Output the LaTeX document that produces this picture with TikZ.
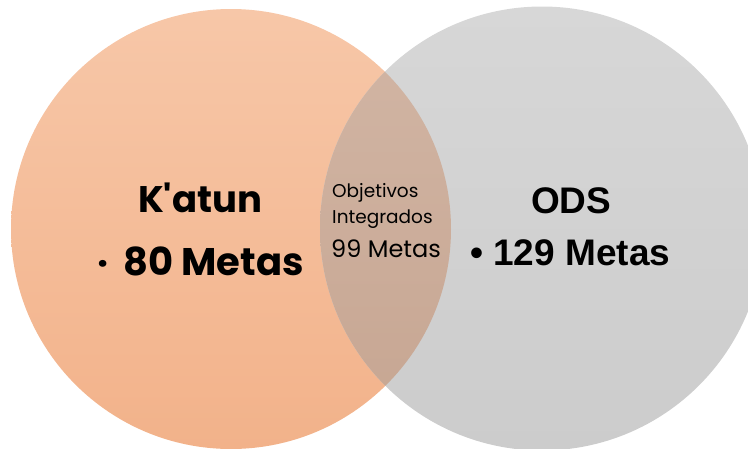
\documentclass[tikz,border=0pt]{standalone}
\usepackage{fontspec}
\newfontfamily\popfont{Poppins}
\newfontfamily\arialfont{Liberation Sans}
\definecolor{orTop}{RGB}{247,199,168}
\definecolor{orBot}{RGB}{242,178,138}
\definecolor{grTop}{RGB}{215,215,215}
\definecolor{grBot}{RGB}{204,204,204}
\definecolor{ovTop}{RGB}{210,182,165}
\definecolor{ovBot}{RGB}{198,165,145}
\begin{document}
\begin{tikzpicture}[x=1pt,y=-1pt,
  lbl/.style={inner sep=0pt, anchor=base west, text=black},
  bigpop/.style={lbl, font=\popfont\bfseries\fontsize{37}{40}\selectfont},
  bigpopb/.style={lbl, font=\popfont\bfseries\fontsize{38.5}{40}\selectfont},
  bigarial/.style={lbl, font=\arialfont\bfseries\fontsize{37}{40}\selectfont},
  midtxt/.style={lbl, font=\popfont\fontsize{18.5}{20}\selectfont},
  midbig/.style={lbl, font=\popfont\fontsize{24}{26}\selectfont}]
\useasboundingbox (0,0) rectangle (748,448);
\clip (0,0) rectangle (748,448);
\coordinate (lc) at (231,229);
\coordinate (rc) at (542,228.5);
\shade[top color=orTop, bottom color=orBot] (lc) circle[radius=220];
\shade[top color=grTop, bottom color=grBot] (rc) circle[radius=222];
\begin{scope}
  \clip (lc) circle[radius=220];
  \clip (rc) circle[radius=222];
  \shade[top color=ovTop, bottom color=ovBot] (300,9) rectangle (460,449);
\end{scope}
\node[bigpop] (katun) at (138,212) {K'atun};
\node[bigpop] (kdot) at (97,275) {·};
\node[bigpopb] (k80) at (123,275) {80 Metas};
\node[bigarial] (ods) at (531,213) {ODS};
\node[bigarial] (o129) at (470,265) {• 129 Metas};
\node[midtxt] (obj) at (332,197) {Objetivos};
\node[midtxt] (integ) at (332,223) {Integrados};
\node[midbig] (m99) at (331,257) {99 Metas};
\end{tikzpicture}
\end{document}
